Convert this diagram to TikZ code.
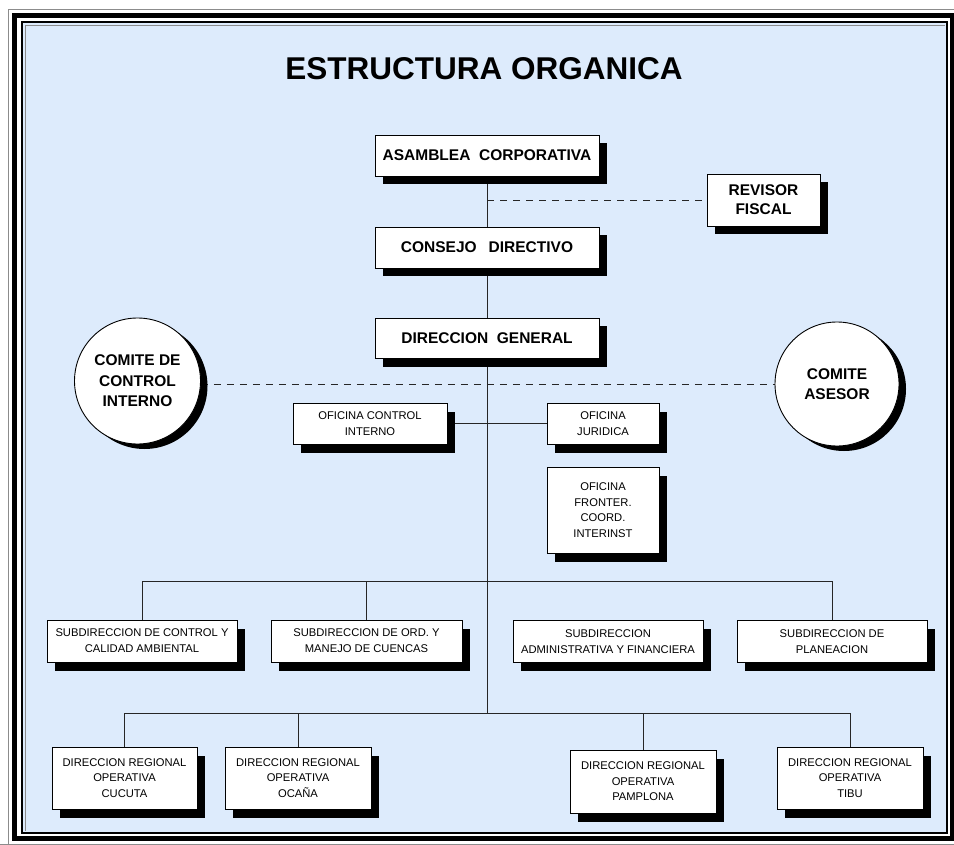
\documentclass[tikz,border=0pt]{standalone}
\usepackage{fontspec}
\setmainfont{Liberation Sans}
\usetikzlibrary{shadows}
\definecolor{bgblue}{RGB}{221,235,252}
\pgfdeclarelayer{bg}
\pgfdeclarelayer{edges}
\pgfsetlayers{bg,edges,main}
\begin{document}
\begin{tikzpicture}[x=1pt,y=-1pt,
  box/.style={draw=black, line width=0.9pt, fill=white, inner sep=0pt, align=center},
  shad/.style={drop shadow={shadow xshift=8pt, shadow yshift=-8.5pt, fill=black, opacity=1}},
  bigbox/.style={box, shad, font=\fontsize{15.5}{19}\selectfont\bfseries},
  smallbox/.style={box, shad, font=\fontsize{11.2}{16}\selectfont},
  regbox/.style={box, shad, font=\fontsize{11.2}{15.5}\selectfont, minimum width=146pt, minimum height=62pt},
  subbox/.style={smallbox, minimum width=190pt, minimum height=42pt},
  comite/.style={circle, draw=black, line width=0.9pt, fill=white, inner sep=0pt, minimum size=126pt, align=center, font=\fontsize{15.5}{20.5}\selectfont\bfseries, drop shadow={shadow xshift=7pt, shadow yshift=-5pt, fill=black, opacity=1}},
  link/.style={draw=black!85, line width=0.8pt},
  dashlink/.style={link, dash pattern=on 7pt off 6pt}]
\useasboundingbox (0,0) rectangle (954,845);

% frame and background
\begin{pgfonlayer}{bg}
\fill[white] (0,0) rectangle (954,845);
\fill[bgblue] (23,23) rectangle (947,833);
\draw[black!45, line width=0.8pt] (8,850) -- (8,9) -- (960,9);
\draw[black!45, line width=0.8pt] (0,844) -- (960,844);
\draw[black, line width=5.5pt] (14.5,15.5) rectangle (952.5,838.5);
\draw[black, line width=2pt] (22,22) rectangle (947,833);
\draw[black!45, line width=0.8pt] (25,25) -- (25,831);
\draw[black!45, line width=0.8pt] (25,25) -- (945,25);
\end{pgfonlayer}

% title
\node[font=\fontsize{31.5}{33}\selectfont\bfseries] (title) at (484,68.5) {ESTRUCTURA ORGANICA};

% top level
\node[bigbox, minimum width=224pt, minimum height=41pt] (asam) at (487,155.5) {ASAMBLEA\ \ CORPORATIVA};
\node[bigbox, minimum width=224pt, minimum height=41pt] (cons) at (487,247.5) {CONSEJO\hspace{12pt}DIRECTIVO};
\node[bigbox, minimum width=224pt, minimum height=40pt] (dirg) at (487,338) {DIRECCION\ \ GENERAL};
\node[bigbox, minimum width=113pt, minimum height=52pt] (rev) at (763.5,200) {REVISOR\\FISCAL};

% committees
\node[comite] (cci) at (137.5,381) {COMITE DE\\CONTROL\\INTERNO};
\node[comite, minimum size=124pt] (cas) at (837,384) {COMITE\\ASESOR};

% offices
\node[smallbox, minimum width=154pt, minimum height=41pt] (ofci) at (370,423.5) {OFICINA CONTROL\\INTERNO};
\node[smallbox, minimum width=112pt, minimum height=41pt] (ofju) at (603,423.5) {OFICINA\\JURIDICA};
\node[smallbox, minimum width=112pt, minimum height=86pt, font=\fontsize{11.2}{15.5}\selectfont] (offr) at (603,510) {OFICINA\\FRONTER.\\COORD.\\INTERINST};

% subdirecciones
\node[subbox] (sub1) at (142,641) {SUBDIRECCION DE CONTROL Y\\CALIDAD AMBIENTAL};
\node[subbox, minimum width=191pt] (sub2) at (366.5,641) {SUBDIRECCION DE ORD. Y\\MANEJO DE CUENCAS};
\node[subbox] (sub3) at (608,641.5) {SUBDIRECCION\\ADMINISTRATIVA Y FINANCIERA};
\node[subbox] (sub4) at (832,641.5) {SUBDIRECCION DE\\PLANEACION};

% regionales
\node[regbox, minimum width=145pt] (reg1) at (124.5,778) {DIRECCION REGIONAL\\OPERATIVA\\CUCUTA};
\node[regbox] (reg2) at (298,778) {DIRECCION REGIONAL\\OPERATIVA\\OCAÑA};
\node[regbox, minimum height=63pt] (reg3) at (643,781.5) {DIRECCION REGIONAL\\OPERATIVA\\PAMPLONA};
\node[regbox] (reg4) at (850,778) {DIRECCION REGIONAL\\OPERATIVA\\TIBU};

\coordinate (sbus) at (487,581);
\coordinate (rbus) at (487,713);

% connectors
\begin{pgfonlayer}{edges}
\draw[link] (asam.south) -- (cons.north);
\draw[link] (cons.south) -- (dirg.north);
\draw[dashlink] (asam.south |- rev.west) -- (rev.west);
\draw[dashlink] (cci.east |- cas.west) -- (cas.west);
\draw[link] (dirg.south) -- (rbus);
\draw[link] (ofci.east) -- (ofju.west);
\draw[link] (sub1.north) -- (sub1.north |- sbus) -- (sub4.north |- sbus) -- (sub4.north);
\draw[link] (sub2.north) -- (sub2.north |- sbus);
\draw[link] (reg1.north) -- (reg1.north |- rbus) -- (reg4.north |- rbus) -- (reg4.north);
\draw[link] (reg2.north) -- (reg2.north |- rbus);
\draw[link] (reg3.north) -- (reg3.north |- rbus);
\end{pgfonlayer}
\end{tikzpicture}
\end{document}
